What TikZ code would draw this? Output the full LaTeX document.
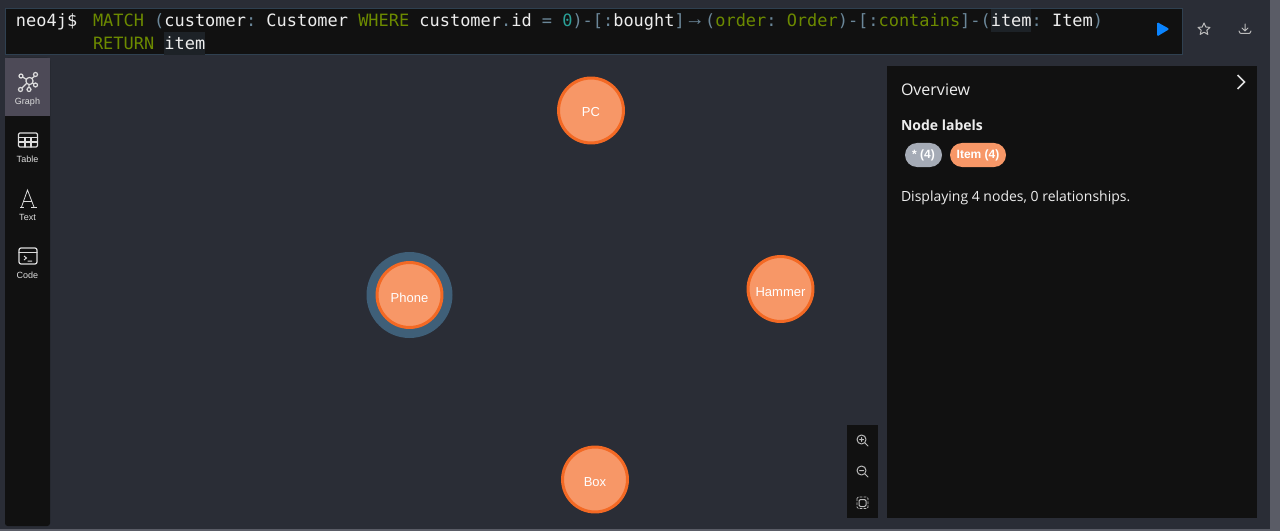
\documentclass[tikz,border=0pt]{standalone}
\usepackage{fontspec}
\setmainfont{Open Sans}
\newfontfamily\codefont{DejaVu Sans Mono}
\newfontfamily\uifont{Liberation Sans}
\newfontfamily\panelfont{Open Sans}
\frenchspacing
\definecolor{pagebg}{HTML}{2A2D36}
\definecolor{panelbg}{HTML}{111111}
\definecolor{edgegrey}{HTML}{5A5C66}
\definecolor{editborder}{HTML}{2F4050}
\definecolor{tabbg}{HTML}{4D4A57}
\definecolor{codetext}{HTML}{EDEDED}
\definecolor{keyw}{HTML}{6C8A00}
\definecolor{punct}{HTML}{6B8799}
\definecolor{numb}{HTML}{2AA198}
\definecolor{hilite}{HTML}{1D2227}
\definecolor{nodefill}{HTML}{F79767}
\definecolor{nodeline}{HTML}{F36924}
\definecolor{ring}{HTML}{3F5F78}
\definecolor{pillgrey}{HTML}{A5ABB6}
\definecolor{playblue}{HTML}{0A84FF}
\definecolor{icon}{HTML}{DDDDDD}
\definecolor{iconmid}{HTML}{BBBBBB}
\newcommand{\K}[1]{\textcolor{keyw}{#1}}
\newcommand{\Pn}[1]{\textcolor{punct}{#1}}
\newcommand{\Nm}[1]{\textcolor{numb}{#1}}
\newcommand{\Arw}{\textcolor{punct}{\makebox[15.3pt][c]{\raisebox{0.9pt}{\uifont\fontsize{15pt}{15pt}\selectfont →}}}}
\tikzset{
  every node/.style={inner sep=0pt,outer sep=0pt},
  codeline/.style={anchor=base west,text=codetext,font=\codefont\fontsize{12.71pt}{15pt}\selectfont},
  tablabel/.style={anchor=base,text=icon,font=\uifont\fontsize{6.75pt}{8pt}\selectfont},
  graphnode/.style={circle,fill=nodefill,draw=nodeline,line width=2.25pt,minimum size=48.7pt},
  nodetext/.style={anchor=base,text=white,font=\uifont\fontsize{9.75pt}{12pt}\selectfont},
  panelhead/.style={anchor=base west,text=codetext,font=\panelfont\fontsize{12pt}{14pt}\selectfont},
  panelbold/.style={anchor=base west,text=codetext,font=\panelfont\bfseries\fontsize{10.5pt}{13pt}\selectfont},
  paneltext/.style={anchor=base west,text=codetext,font=\panelfont\fontsize{10.5pt}{13pt}\selectfont},
  pilltext/.style={anchor=base,text=white,font=\uifont\bfseries\fontsize{9pt}{11pt}\selectfont},
  iconline/.style={draw=icon,line width=0.9pt,line cap=round,line join=round},
  thinicon/.style={draw=iconmid,line width=0.75pt,line cap=round,line join=round},
}
\begin{document}
\begin{tikzpicture}[x=0.75pt,y=-0.75pt]
\useasboundingbox (0,0) rectangle (1280,531);
\fill[pagebg] (0,0) rectangle (1280,531);
\fill[edgegrey] (1270,0) rectangle (1280,531);
\fill[edgegrey] (0,529) rectangle (1280,531);
% editor
\draw[fill=panelbg,draw=editborder,line width=0.75pt] (5.5,8.5) rectangle (1182.5,55);
\fill[hilite] (164,32) rectangle (205,55);
\fill[hilite] (991,9) rectangle (1031,32);
\node[codeline] (prompt) at (16,27) {neo4j\$};
\node[codeline] (query1) at (93,27) {\K{MATCH} \Pn{(}customer\Pn{:} Customer \K{WHERE} customer\Pn{.}id \Pn{=} \Nm{0}\Pn{)-[:}bought\Pn{]}\Arw\Pn{(}\K{order}\Pn{:} \K{Order}\Pn{)-[:}\K{contains}\Pn{]-(}item\Pn{:} Item\Pn{)}};
\node[codeline] (query2) at (93,49.5) {\K{RETURN} item};
% play, star, download
\fill[playblue,rounded corners=1pt] (1157,22) -- (1169.5,29) -- (1157,36.5) -- cycle;
\draw[thinicon] (1204,23) -- (1205.8,27) -- (1210,27.4) -- (1206.8,30.2) -- (1207.8,34.4) -- (1204,32.2) -- (1200.2,34.4) -- (1201.2,30.2) -- (1198,27.4) -- (1202.2,27) -- cycle;
\draw[thinicon] (1245,24) -- (1245,31) (1242,28) -- (1245,31) -- (1248,28) (1239,31) .. controls (1239,33.5) and (1240,33.5) .. (1245,33.5) .. controls (1250,33.5) and (1251,33.5) .. (1251,31);
% sidebar
\fill[panelbg,rounded corners=2pt] (5,58) rectangle (50,526);
\fill[tabbg] (5,58) rectangle (50,116);
% graph icon
\draw[iconline] (29,81) -- (21,76) (29,81) -- (36,75) (29,81) -- (36,85) (29,81) -- (29,89) (29,81) -- (21,89);
\draw[iconline,fill=tabbg] (29.5,81) circle (3.6);
\foreach \nm/\px/\py in {ga/21/76,gb/35.5/74.5,gc/35.5/85,gd/29/89.5,ge/20.5/89.5}{
  \draw[iconline,fill=tabbg] (\px,\py) circle (2);
}
\node[tablabel] (lgraph) at (27.5,104.5) {Graph};
% table icon
\draw[iconline,rounded corners=1pt] (18.5,133) rectangle (37.5,147);
\draw[iconline] (18.5,137.5) -- (37.5,137.5) (18.5,142) -- (37.5,142) (25,137.5) -- (25,147) (31,137.5) -- (31,147);
\node[tablabel] (ltable) at (27.5,162) {Table};
% text icon
\draw[draw=icon,line width=0.6pt,line join=miter] (21.5,207) -- (27.5,190) -- (34,207);
\draw[draw=icon,line width=0.6pt] (23.5,201) -- (32,201) (20,207) -- (24,207) (31,207) -- (36.5,207);
\node[tablabel] (ltext) at (27.5,220) {Text};
% code icon
\draw[iconline,rounded corners=1.5pt] (19,248) rectangle (37,264);
\draw[iconline] (19,252.5) -- (37,252.5);
\draw[draw=icon,line width=0.75pt] (24,256) -- (26.5,258) -- (24,260) (27.5,261) -- (32,261);
\node[tablabel] (lcode) at (27.5,278) {Code};
% graph nodes
\fill[ring] (409.5,295) circle (43);
\node[graphnode] (pc) at (591,110.5) {};
\node[graphnode] (phone) at (409.5,295) {};
\node[graphnode] (hammer) at (780.5,289) {};
\node[graphnode] (box) at (595,479.5) {};
\node[nodetext] at (591,116.5) {PC};
\node[nodetext] at (409.5,302) {Phone};
\node[nodetext] at (780.5,296) {Hammer};
\node[nodetext] at (595,486) {Box};
% overview panel
\fill[panelbg] (887,66) rectangle (1257,518);
\draw[draw=icon,line width=1.1pt] (1237.5,75) -- (1244.5,82) -- (1237.5,89);
\node[panelhead] (ovw) at (901,95.5) {Overview};
\node[panelbold] (nl) at (901,130.5) {Node labels};
\fill[pillgrey,rounded corners=9pt] (905,143) rectangle (942,167);
\fill[nodefill,rounded corners=9pt] (950,143) rectangle (1006,167);
\node[pilltext] (p1) at (923.5,158) {* (4)};
\node[pilltext] (p2) at (978,158) {Item (4)};
\node[paneltext] (disp) at (901,201) {Displaying 4 nodes, 0 relationships.};
% zoom panel
\fill[panelbg] (847,425) rectangle (878,518);
\draw[thinicon] (861.5,439.5) circle (4.5) (865,443) -- (868,446) (859.5,439.5) -- (863.5,439.5) (861.5,437.5) -- (861.5,441.5);
\draw[thinicon] (861.5,470.5) circle (4.5) (865,474) -- (868,477) (859.5,470.5) -- (863.5,470.5);
\draw[thinicon,rounded corners=1pt] (859,499.5) rectangle (866,506.5);
\draw[draw=iconmid,line width=0.6pt,dash pattern=on 2pt off 1pt,rounded corners=1pt] (857,497) rectangle (868,508.5);
\end{tikzpicture}
\end{document}
